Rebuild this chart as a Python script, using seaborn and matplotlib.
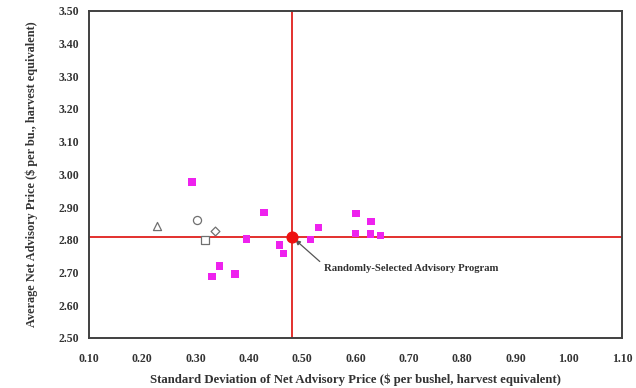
import matplotlib as mpl
mpl.use('Agg')
import matplotlib.pyplot as plt
import seaborn as sns
import pandas as pd

# advisory programs (std dev, average net price)
prog_sd = [0.293, 0.428, 0.395, 0.457, 0.465, 0.345, 0.331, 0.374, 0.515, 0.530,
           0.601, 0.629, 0.600, 0.628, 0.647]
prog_price = [2.977, 2.883, 2.803, 2.784, 2.758, 2.720, 2.687, 2.695, 2.800, 2.838,
              2.880, 2.857, 2.819, 2.818, 2.814]

# benchmark markers
bench_names = ["triangle", "circle", "diamond", "square"]
bench_sd = [0.228, 0.303, 0.336, 0.318]
bench_price = [2.843, 2.861, 2.826, 2.799]
bench_markers = ["^", "o", "D", "s"]

# randomly-selected program
rand_sd = 0.481
rand_price = 2.810

xticks = [0.10, 0.20, 0.30, 0.40, 0.50, 0.60, 0.70, 0.80, 0.90, 1.00, 1.10]
yticks = [2.50, 2.60, 2.70, 2.80, 2.90, 3.00, 3.10, 3.20, 3.30, 3.40, 3.50]

sns.set_theme(style="white")
plt.rcParams['font.family'] = ['Liberation Serif', 'DejaVu Serif']
txt = '#333333'

fig = plt.figure(figsize=(6.36, 3.88), dpi=100)
ax = fig.add_axes([0.140, 0.129, 0.838, 0.843])

red = '#e0201c'
ax.axvline(rand_sd, color=red, lw=1.3, zorder=1)
ax.axhline(rand_price, color=red, lw=1.3, zorder=1)

df = pd.DataFrame({"sd": prog_sd, "price": prog_price})
sns.scatterplot(data=df, x="sd", y="price", ax=ax, marker="s", s=28,
                color='#ee22ee', edgecolor='none', zorder=3)

for sd, pr, mk in zip(bench_sd, bench_price, bench_markers):
    ax.scatter([sd], [pr], marker=mk, s=34 if mk != "D" else 20,
               facecolor='white', edgecolor='#707070', linewidth=0.9, zorder=3)

ax.scatter([rand_sd], [rand_price], s=60, color='#ee1111', zorder=4)

ax.annotate("Randomly-Selected Advisory Program", xy=(rand_sd + 0.006, rand_price - 0.010),
            xytext=(0.541, 2.711), fontsize=7.7, fontweight='bold', color='#303030',
            va='center', ha='left',
            arrowprops=dict(arrowstyle='-|>', color='#555555', lw=0.9,
                            mutation_scale=7, shrinkA=1, shrinkB=0, relpos=(0, 0.9)))

ax.set_xlim(0.10, 1.10)
ax.set_ylim(2.50, 3.50)
ax.set_xticks(xticks)
ax.set_yticks(yticks)
ax.set_xticklabels([f"{v:.2f}" for v in xticks], fontsize=8.5, fontweight='bold', color=txt)
ax.set_yticklabels([f"{v:.2f}" for v in yticks], fontsize=8.5, fontweight='bold', color=txt)
ax.tick_params(axis='x', length=0, pad=11)
ax.tick_params(axis='y', length=0, pad=7)

ax.set_xlabel("Standard Deviation of Net Advisory Price ($ per bushel, harvest equivalent)",
              fontsize=9.2, fontweight='bold', color=txt, labelpad=6)
ax.set_ylabel("Average Net Advisory Price ($ per bu., harvest equivalent)",
              fontsize=8.8, fontweight='bold', color=txt, labelpad=15)

for sp in ax.spines.values():
    sp.set_color('#404040')
    sp.set_linewidth(1.4)
ax.grid(False)

fig.savefig("out.png", dpi=100)
